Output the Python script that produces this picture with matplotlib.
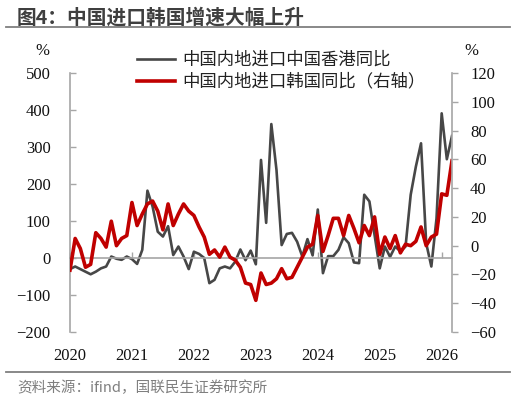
import matplotlib
matplotlib.use("Agg")
import matplotlib.pyplot as plt
import matplotlib.transforms as mtransforms
import numpy as np

# Monthly data, Jan 2020 - Mar 2026
hk_yoy = [-30, -23, -30, -37, -44, -37, -28, -23, 4, -2, -5, 4,
          -3, -16, 22, 182, 139, 71, 58, 86, 8, 31, 4, -30,
          17, 11, 0, -68, -59, -28, -23, -28, -10, 23, -6, 20,
          -17, 265, 95, 362, 238, 35, 65, 68, 44, 4, 51, 7,
          131, -41, 5, 5, 22, 56, 40, -12, -14, 171, 153, 62,
          -28, 31, 3, 31, 18, 31, 171, 247, 310, 40, -23, 107,
          391, 267, 330]
kr_yoy = [-17, 5, -2, -15, -13, 9, 5, -1, 17, 0, 5, 7,
          30, 14, 22, 29, 31, 24, 11, 29, 14, 22, 29, 24,
          21, 13, 6, -6, -3, -8, -1, -8, -10, -15, -26, -27,
          -38, -19, -27, -26, -23, -16, -23, -22, -15, -8, -1, 1,
          21, -4, 7, 19, 19, 7, 21, 12, 2, 14, 7, 20,
          -6, 6, -2, 7, -5, 1, 0, 3, 13, 0, 6, 8,
          36, 35, 59]
years = ["2020", "2021", "2022", "2023", "2024", "2025", "2026"]
left_ticks = [-200, -100, 0, 100, 200, 300, 400, 500]
right_ticks = [-60, -40, -20, 0, 20, 40, 60, 80, 100, 120]

label_hk = "中国内地进口中国香港同比"
label_kr = "中国内地进口韩国同比（右轴）"
title = "图4：中国进口韩国增速大幅上升"
source = "资料来源：ifind，国联民生证券研究所"

cjk = ["Noto Sans CJK SC", "DejaVu Sans"]
num_font = "Liberation Serif"
axis_gray = "#a6a6a6"

fig = plt.figure(figsize=(5.16, 4.0), dpi=100)
ax = fig.add_axes([70 / 516, 1 - 332 / 400, (452 - 70) / 516, (332 - 73) / 400])
ax2 = ax.twinx()

x = np.arange(len(hk_yoy))
l1, = ax.plot(x, hk_yoy, color="#474747", lw=1.9, label=label_hk)
l2, = ax2.plot(x, kr_yoy, color="#c00000", lw=2.6, label=label_kr)

ax.set_xlim(0, len(hk_yoy) - 1)
ax.set_ylim(-200, 500)
ax2.set_ylim(-60, 120)
ax.set_yticks(left_ticks)
ax2.set_yticks(right_ticks)

# spines
for a in (ax, ax2):
    a.spines["top"].set_visible(False)
    for s in a.spines.values():
        s.set_color(axis_gray)
        s.set_linewidth(1.2)
ax.spines["right"].set_visible(False)
ax2.spines["left"].set_visible(False)
ax2.spines["bottom"].set_visible(False)
ax.spines["bottom"].set_position(("data", 0))

ax.tick_params(axis="y", direction="in", length=4, width=1.0, color=axis_gray,
               pad=14, labelsize=12, labelcolor="#111111")
ax2.tick_params(axis="y", direction="out", length=4, width=1.0, color=axis_gray,
                pad=9, labelsize=12, labelcolor="#111111")
year_pos = [12 * i for i in range(len(years))]
ax.set_xticks(year_pos)
ax.tick_params(axis="x", direction="in", length=4, width=1.0, color=axis_gray,
               labelbottom=False)
for lab in ax.get_yticklabels() + ax2.get_yticklabels():
    lab.set_fontfamily(num_font)

trans = mtransforms.blended_transform_factory(ax.transData, ax.transAxes)
for p, y in zip(year_pos, years):
    ax.text(p, -0.06, y, transform=trans, ha="center", va="top",
            fontsize=12, family=num_font, color="#111111")

fig.text(42 / 516, 1 - 51 / 400, "%", ha="center", va="center", fontsize=12,
         family=num_font, color="#111111")
fig.text(471 / 516, 1 - 51 / 400, "%", ha="center", va="center", fontsize=12,
         family=num_font, color="#111111")

leg = ax2.legend(handles=[l1, l2], loc="upper left",
                 bbox_to_anchor=(137 / 516, 1 - 51 / 400),
                 bbox_transform=fig.transFigure, frameon=False,
                 handlelength=2.2, handletextpad=0.4, labelspacing=0.22,
                 borderaxespad=0, borderpad=0,
                 prop={"family": cjk, "size": 12.5})
for t in leg.get_texts():
    t.set_color("#222222")

# title, rules, source
fig.text(17 / 516, 1 - 18 / 400, title, ha="left", va="center", fontsize=14.2,
         fontweight="bold", family=cjk, color="#3f3f3f")
fig.add_artist(plt.Line2D([6 / 516, 510 / 516], [1 - 27 / 400, 1 - 27 / 400],
                          color="#7f7f7f", lw=1.3, transform=fig.transFigure))
fig.add_artist(plt.Line2D([6 / 516, 510 / 516], [1 - 372 / 400, 1 - 372 / 400],
                          color="#7f7f7f", lw=1.3, transform=fig.transFigure))
fig.text(17 / 516, 1 - 388 / 400, source, ha="left", va="center", fontsize=10.5,
         family=cjk, color="#7f7f7f")

fig.savefig("out.png", dpi=100)
